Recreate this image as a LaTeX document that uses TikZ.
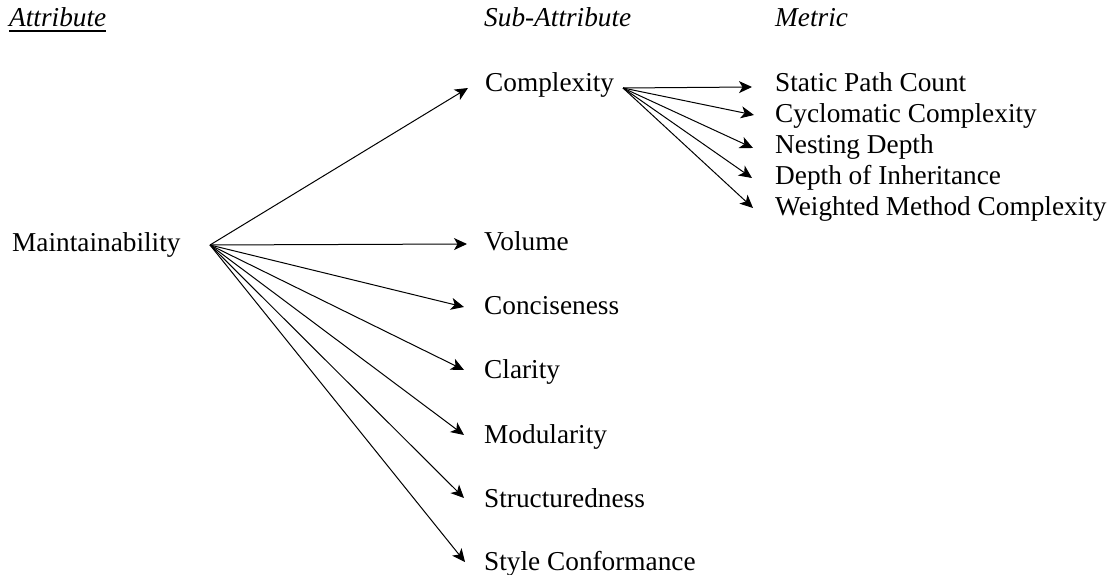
\documentclass[tikz,border=0pt]{standalone}
\usepackage{fontspec}
\setmainfont{Liberation Serif}
\usetikzlibrary{arrows.meta,calc}
\begin{document}
\begin{tikzpicture}[x=1bp,y=-1bp,
  txt/.style={font=\fontsize{27.4}{32}\selectfont, inner sep=0pt, anchor=base west},
  hdr/.style={font=\fontsize{27.4}{32}\selectfont\itshape, inner sep=0pt, anchor=base west},
  arr/.style={line width=1bp, -{Stealth[length=13bp,width=12bp,inset=3.5bp]}}]
\useasboundingbox[fill=white] (0,0) rectangle (1117,575);
% headers
\node[hdr] (hattr) at (9,27) {Attribute};
\node[hdr] (hsub) at (484,27) {Sub-Attribute};
\node[hdr] (hmet) at (775,27) {Metric};
\draw[line width=1.6bp] ($(hattr.base west)+(0,4)$) -- ($(hattr.base east)+(0,4)$);
% attribute
\node[txt] (maint) at (12,252) {Maintainability};
\coordinate (mo) at (210,245);
% sub-attributes
\node[txt] (comp) at (485,92) {Complexity};
\node[txt] (vol)  at (484,251) {Volume};
\node[txt] (conc) at (484,315) {Conciseness};
\node[txt] (clar) at (484,378) {Clarity};
\node[txt] (modu) at (484,443) {Modularity};
\node[txt] (stru) at (484,507) {Structuredness};
\node[txt] (styl) at (484,570) {Style Conformance};
% metrics
\node[txt] (spc) at (775,92) {Static Path Count};
\node[txt] (cyc) at (775,123) {Cyclomatic Complexity};
\node[txt] (nes) at (775,154) {Nesting Depth};
\node[txt] (doi) at (775,185) {Depth of Inheritance};
\node[txt] (wmc) at (775,216) {Weighted Method Complexity};
\coordinate (co) at (623,88);
% arrows from Maintainability
\draw[arr] (mo) -- ($(comp.base west)+(-17,-4)$);
\draw[arr] (mo) -- ($(vol.base west)+(-17,-7)$);
\draw[arr] (mo) -- ($(conc.base west)+(-20,-8)$);
\draw[arr] (mo) -- ($(clar.base west)+(-20,-8)$);
\draw[arr] (mo) -- ($(modu.base west)+(-20,-8)$);
\draw[arr] (mo) -- ($(stru.base west)+(-20,-9)$);
\draw[arr] (mo) -- ($(styl.base west)+(-19,-8)$);
% arrows from Complexity
\draw[arr] (co) -- ($(spc.base west)+(-23,-5)$);
\draw[arr] (co) -- ($(cyc.base west)+(-21,-8)$);
\draw[arr] (co) -- ($(nes.base west)+(-22,-6)$);
\draw[arr] (co) -- ($(doi.base west)+(-23,-7)$);
\draw[arr] (co) -- ($(wmc.base west)+(-22,-8)$);
\end{tikzpicture}
\end{document}
